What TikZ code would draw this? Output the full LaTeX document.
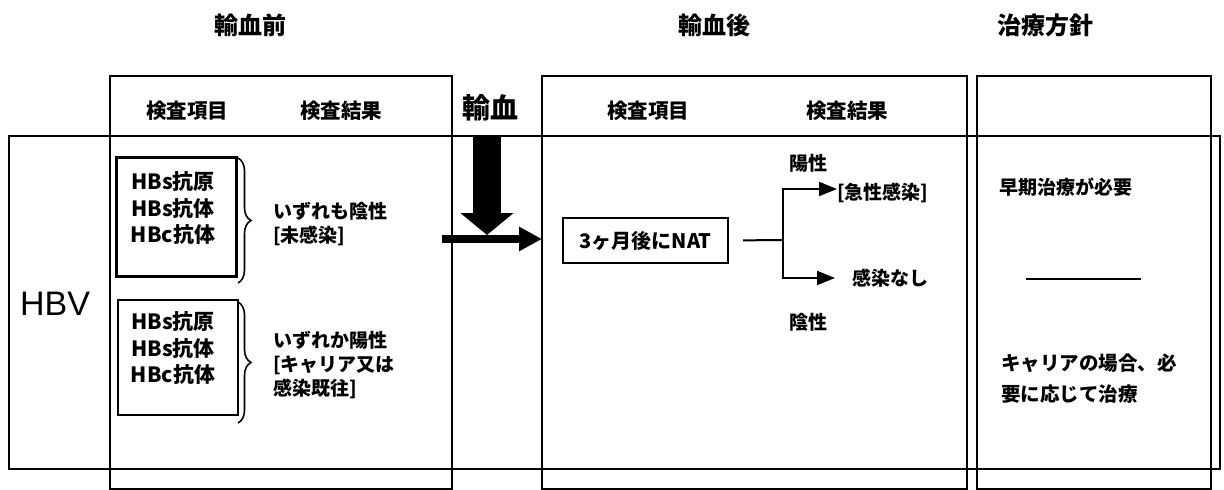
\documentclass[tikz,border=0pt]{standalone}
\usepackage{fontspec}
\setmainfont{Liberation Sans}
\newfontfamily\jp{Noto Sans CJK JP}
\usetikzlibrary{positioning,arrows.meta,decorations.pathreplacing}

\begin{document}
\begin{tikzpicture}[x=1pt, y=-1pt,
  frame/.style={draw, line width=2.1pt},
  heading/.style={font=\jp\bfseries\fontsize{24}{28}\selectfont, inner sep=0pt},
  colhead/.style={font=\jp\bfseries\fontsize{20.5}{24}\selectfont, inner sep=0pt},
  label/.style={font=\jp\bfseries\fontsize{19}{24}\selectfont, inner sep=0pt, align=left},
  testbox/.style={draw, line width=2.1pt, minimum width=120pt, minimum height=119pt},
  testlist/.style={font=\jp\bfseries\fontsize{21}{26.5}\selectfont, inner sep=0pt, align=center},
  natbox/.style={draw, line width=2.1pt, minimum width=165pt, minimum height=45pt, font=\jp\bfseries\fontsize{20}{24}\selectfont},
  bracestyle/.style={draw, line width=1.6pt, decorate, decoration={brace, amplitude=13pt}},
  bigarrow/.style={line width=28pt, -{Triangle[length=22pt, width=52pt]}},
  feedarrow/.style={line width=8pt, -{Triangle[length=23pt, width=23pt]}},
  branch/.style={line width=2pt, -{Triangle[length=18pt, width=14pt]}}]
\useasboundingbox (0,0) rectangle (1224,490);

\draw[frame] (110,76) rectangle (452,489);
\draw[frame] (542,76) rectangle (967,489);
\draw[frame] (977,76) rectangle (1211,489);
\draw[frame] (9,136) rectangle (1220,469);

\node[heading] (before) at (250,25) {輸血前};
\node[heading] (after) at (714,25) {輸血後};
\node[heading] (policy) at (1045,25) {治療方針};

\node[colhead] (itemA) at (187,111) {検査項目};
\node[colhead] (resultA) at (341,111) {検査結果};
\node[colhead] (itemB) at (648,111) {検査項目};
\node[colhead] (resultB) at (847,111) {検査結果};
\node[font=\jp\bfseries\fontsize{28}{30}\selectfont, inner sep=0pt] (transfusion) at (490,108) {輸血};

\node[font=\fontsize{34}{40}\selectfont, inner sep=0pt] (hbv) at (55,304) {HBV};

\node[testbox] (boxA) at (176.5,217) {};
\node[testlist] (listA) at (173,208) {HBs抗原\\HBs抗体\\HBc抗体};
\node[testbox, minimum height=115pt] (boxB) at (178,357.5) {};
\node[testlist] (listB) at (173,348) {HBs抗原\\HBs抗体\\HBc抗体};

\draw[bracestyle] (238,158) -- (238,283);
\draw[bracestyle] (238,302) -- (238,423);

\node[label, anchor=west] (negA) at (273,223.5) {いずれも陰性\\{[}未感染{]}};
\node[label, anchor=west] (posA) at (273,365) {いずれか陽性\\{[}キャリア又は\\感染既往{]}};

\coordinate (dropTop) at (487,136);
\coordinate (dropTip) at (487,235);
\coordinate (feedStart) at (442,239);
\coordinate (feedEnd) at (542,239);
\draw[bigarrow] (dropTop) -- (dropTip);
\draw[feedarrow] (feedStart) -- (feedEnd);

\node[natbox] (nat) at (645.5,240.5) {3ヶ月後にNAT};
\coordinate (fork) at (783,240);
\node[label, anchor=west] (acute) at (837,193) {{[}急性感染{]}};
\node[label, anchor=west] (clear) at (852,278) {感染なし};
\node[label] (pos) at (808,163) {陽性};
\node[label] (neg) at (808,322) {陰性};

\draw[line width=2pt, shorten <=14pt] (nat.east) -- (fork);
\draw[branch] (fork) |- ([yshift=4pt]acute.west);
\draw[branch, shorten >=17pt] (fork) |- (clear.west);

\node[label, anchor=west] (early) at (999,187) {早期治療が必要};
\draw[line width=2pt] (1026,279) -- (1141,279);
\node[label, anchor=west, font=\jp\bfseries\fontsize{19.5}{31}\selectfont] (carrier) at (1001,378.5) {キャリアの場合、必\\要に応じて治療};

\end{tikzpicture}
\end{document}
